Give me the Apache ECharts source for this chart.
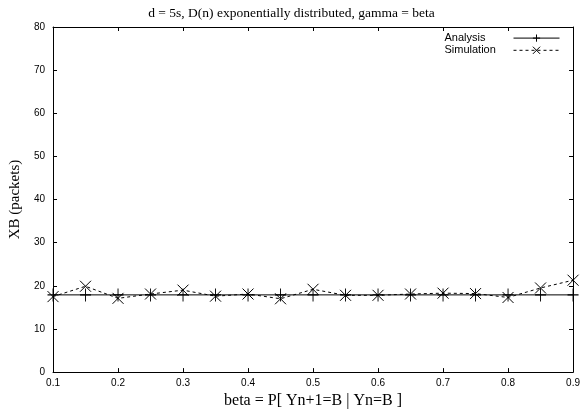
<!DOCTYPE html>
<html>
<head>
<meta charset="utf-8">
<script src="https://cdn.jsdelivr.net/npm/echarts@6/dist/echarts.min.js"></script>
<style>
  html, body { margin: 0; padding: 0; background: #fff; }
  #chart { width: 583px; height: 414px; }
</style>
</head>
<body>
<div id="chart"></div>
<script>
// beta values along the x axis
const betaValues = [0.1, 0.15, 0.2, 0.25, 0.3, 0.35, 0.4, 0.45, 0.5, 0.55, 0.6, 0.65, 0.7, 0.75, 0.8, 0.85, 0.9];
// analytical XB (packets)
const analysisXB = [17.9, 17.9, 17.9, 17.9, 17.9, 17.9, 17.9, 17.9, 17.9, 17.9, 17.9, 17.9, 17.9, 17.9, 17.9, 17.9, 17.9];
// simulated XB (packets)
const simulationXB = [17.5, 19.9, 17.1, 18.1, 19.0, 17.6, 18.1, 17.0, 19.2, 17.8, 17.8, 18.1, 18.3, 18.2, 17.3, 19.5, 21.3];

const titleText = 'd = 5s, D(n) exponentially distributed, gamma = beta';
const xName = 'beta = P[ Yn+1=B | Yn=B ]';
const yName = 'XB (packets)';

const pair = (xs, ys) => xs.map((x, i) => [x, ys[i]]);

const plusPath = 'path://M0,-6L0,6M-6,0L6,0';
const crossPath = 'path://M-5,-5L5,5M-5,5L5,-5';

const sans = 'Liberation Sans, Arial, sans-serif';
const serif = 'Liberation Serif, Times New Roman, serif';
const tickFont = { fontFamily: sans, fontSize: 10, color: '#000' };

const chart = echarts.init(document.getElementById('chart'), null, { renderer: 'canvas' });

const baseAxisLine = { show: true, onZero: false, lineStyle: { color: '#000', width: 1 } };
const innerTick = { show: true, inside: true, length: 4, lineStyle: { color: '#000', width: 1 } };

chart.setOption({
  animation: false,
  backgroundColor: '#fff',
  title: {
    text: titleText,
    left: 'center',
    top: 1,
    textStyle: { fontFamily: serif, fontSize: 13.5, fontWeight: 'normal', color: '#000' }
  },
  legend: {
    right: 18,
    top: 27,
    orient: 'vertical',
    align: 'right',
    itemWidth: 46,
    itemHeight: 9,
    itemGap: 0,
    lineStyle: { width: 1 },
    itemStyle: { borderWidth: 1 },
    formatter: '{t|{name}}',
    textStyle: {
      fontFamily: sans, fontSize: 11, lineHeight: 10, color: '#000',
      rich: { t: { width: 64, height: 10, align: 'left', fontFamily: sans, fontSize: 11, lineHeight: 10, color: '#000' } }
    },
    data: ['Analysis', 'Simulation']
  },
  grid: { left: 49, right: 6, top: 27, bottom: 41, containLabel: false },
  xAxis: [
    {
      type: 'value', min: 0.1, max: 0.9, interval: 0.1,
      name: xName, nameLocation: 'middle', nameGap: 17,
      nameTextStyle: { fontFamily: serif, fontSize: 16, color: '#000' },
      axisLine: baseAxisLine, axisTick: innerTick,
      axisLabel: Object.assign({ margin: 6 }, tickFont),
      splitLine: { show: false }
    },
    {
      type: 'value', min: 0.1, max: 0.9, interval: 0.1, position: 'top',
      axisLine: baseAxisLine, axisTick: innerTick,
      axisLabel: { show: false }, splitLine: { show: false }
    }
  ],
  yAxis: [
    {
      type: 'value', min: 0, max: 80, interval: 10,
      name: yName, nameLocation: 'middle', nameGap: 30,
      nameTextStyle: { fontFamily: serif, fontSize: 15, color: '#000' },
      axisLine: baseAxisLine, axisTick: innerTick,
      axisLabel: Object.assign({ margin: 8 }, tickFont),
      splitLine: { show: false }
    },
    {
      type: 'value', min: 0, max: 80, interval: 10, position: 'right',
      axisLine: baseAxisLine, axisTick: innerTick,
      axisLabel: { show: false }, splitLine: { show: false }
    }
  ],
  series: [
    {
      name: 'Analysis',
      type: 'line',
      data: pair(betaValues, analysisXB),
      symbol: plusPath,
      symbolSize: [11, 13],
      showAllSymbol: true,
      lineStyle: { color: '#000', width: 1, type: 'solid' },
      itemStyle: { color: 'none', borderColor: '#000', borderWidth: 1 },
      z: 3
    },
    {
      name: 'Simulation',
      type: 'line',
      data: pair(betaValues, simulationXB),
      symbol: crossPath,
      symbolSize: 11,
      showAllSymbol: true,
      lineStyle: { color: '#000', width: 1, type: [3, 3] },
      itemStyle: { color: 'none', borderColor: '#000', borderWidth: 1 },
      z: 4
    }
  ]
});
</script>
</body>
</html>
